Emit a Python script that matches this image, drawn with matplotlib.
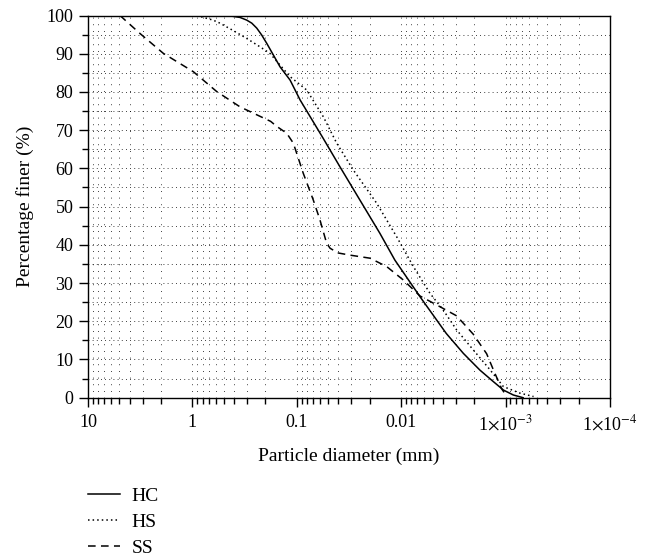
import matplotlib
matplotlib.use('Agg')
import matplotlib.pyplot as plt
from matplotlib.ticker import FixedLocator, FixedFormatter, LogLocator, NullFormatter, MultipleLocator
import numpy as np

# particle diameter (mm) and percentage finer
HC_D = [2.0, 0.436, 0.35, 0.302, 0.27, 0.242, 0.217, 0.194, 0.168, 0.145, 0.116,
        0.093, 0.056, 0.0386, 0.016, 0.0115, 0.0066, 0.0037, 0.00254, 0.00176,
        0.00131, 0.00105, 0.000843, 0.00068]
HC_P = [100, 99.9, 99.5, 98.8, 98.0, 96.7, 94.9, 92.7, 89.7, 86.6, 83.1,
        77.9, 67.9, 60.4, 43.0, 36.0, 26.4, 16.8, 11.6, 7.2,
        4.2, 2.0, 0.7, 0.0]

HS_D = [0.91, 0.635, 0.545, 0.409, 0.302, 0.225, 0.181, 0.116, 0.0804, 0.0557,
        0.0415, 0.0288, 0.0172, 0.01105, 0.00765, 0.0053, 0.00395, 0.00294,
        0.00204, 0.00141, 0.00105, 0.00073, 0.00054]
HS_P = [100, 98.8, 98.0, 96.1, 94.0, 91.8, 90.1, 84.0, 80.5, 73.5,
        66.6, 59.6, 50.9, 42.1, 34.3, 27.3, 22.9, 17.7,
        12.5, 7.3, 2.9, 1.2, 0.3]

SS_D = [4.94, 3.18, 1.90, 0.98, 0.585, 0.35, 0.178, 0.156, 0.125, 0.108, 0.0867,
        0.0695, 0.060, 0.0518, 0.048, 0.0447, 0.0408, 0.0309, 0.0199, 0.01377,
        0.00955, 0.0066, 0.00425, 0.00294, 0.00204, 0.00152, 0.00131, 0.00109,
        0.00097]
SS_P = [100, 95.3, 90.1, 85.3, 80.1, 76.1, 72.3, 71.0, 69.2, 66.6, 58.7,
        51.7, 46.5, 40.4, 39.1, 38.6, 37.9, 37.3, 36.5, 34.3,
        30.8, 26.6, 23.8, 21.4, 16.6, 11.5, 7.3, 2.3,
        0.3]

X_TICKS = [10, 1, 0.1, 0.01, 1e-3, 1e-4]
X_LABELS = ['10', '1', '0.1', '0.01', r'1$\times$10$^{-3}$', r'1$\times$10$^{-4}$']

plt.rcParams['font.family'] = ['Liberation Serif', 'DejaVu Serif']
plt.rcParams['mathtext.fontset'] = 'stix'
plt.rcParams['font.size'] = 14

fig = plt.figure(figsize=(6.52, 5.58), dpi=100)
ax = fig.add_axes([0.135, 0.2873, 0.8006, 0.6849])

ax.plot(HC_D, HC_P, color='black', lw=1.1, ls='-', label='HC')
ax.plot(HS_D, HS_P, color='black', lw=1.1, ls=(0, (1, 2)), label='HS')
ax.plot(SS_D, SS_P, color='black', lw=1.1, ls=(0, (5, 3.5)), label='SS')

ax.set_xscale('log')
ax.set_xlim(10, 1e-4)
ax.set_ylim(0, 100)

ax.xaxis.set_major_locator(FixedLocator(X_TICKS))
ax.xaxis.set_major_formatter(FixedFormatter(X_LABELS))
ax.xaxis.set_minor_locator(LogLocator(base=10, subs=np.arange(2, 10)))
ax.xaxis.set_minor_formatter(NullFormatter())
ax.yaxis.set_major_locator(MultipleLocator(10))
ax.yaxis.set_minor_locator(MultipleLocator(5))

ax.tick_params(which='major', direction='out', length=6.5, width=1.0,
               top=False, right=False, labelsize=13)
ax.tick_params(which='minor', direction='out', length=4.3, width=1.0, top=False, right=False)
ax.tick_params(axis='x', which='major', pad=5)
ax.tick_params(axis='y', which='major', pad=4)

ax.grid(True, axis='x', which='both', color='black', lw=0.6, ls=(0, (1, 7)))
ax.grid(True, axis='y', which='both', color='black', lw=0.6, ls=(0, (1, 4)))
ax.set_axisbelow(True)

for sp in ax.spines.values():
    sp.set_linewidth(1.0)

ax.set_xlabel('Particle diameter (mm)', labelpad=10)
ax.set_ylabel('Percentage finer (%)', labelpad=9)

fig.legend(loc='upper left', bbox_to_anchor=(0.135, 0.126), frameon=False,
           handlelength=1.65, handletextpad=0.6, labelspacing=0.43, borderaxespad=0,
           borderpad=0)

fig.savefig('out.png', dpi=100)
